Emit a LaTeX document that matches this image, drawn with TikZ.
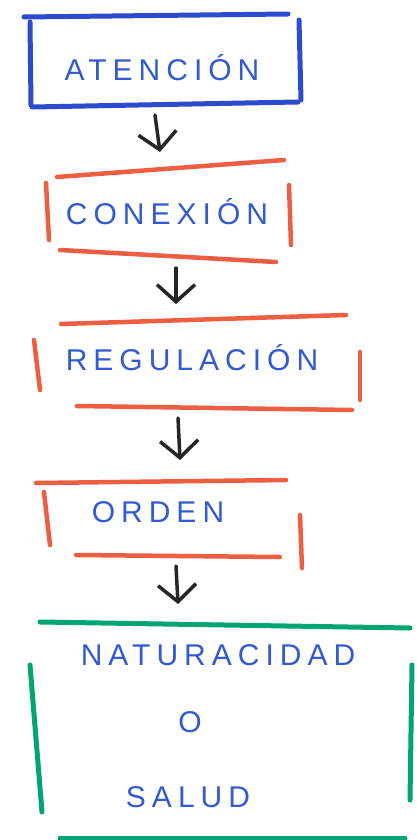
\documentclass[tikz,border=0pt]{standalone}
\usepackage{fontspec}
\setmainfont{Liberation Sans}
\usetikzlibrary{arrows.meta}
\definecolor{mblue}{RGB}{45,75,205}
\definecolor{mred}{RGB}{238,95,65}
\definecolor{mgreen}{RGB}{0,165,115}
\definecolor{tblue}{RGB}{50,90,210}
\tikzset{
  bluebox/.style={draw=mblue,line width=5pt,line cap=round},
  redbox/.style={draw=mred,line width=4.5pt,line cap=round},
  greenbox/.style={draw=mgreen,line width=5pt,line cap=round},
  lbl/.style={text=tblue,font=\fontsize{30}{34}\selectfont\addfontfeatures{LetterSpace=20}},
  flow/.style={draw=black!85,line width=3.5pt,line cap=round,-{Straight Barb[length=17pt,width=38pt,line width=3.5pt]}}
}
\begin{document}
\begin{tikzpicture}[x=1pt,y=-1pt]
\useasboundingbox (0,0) rectangle (416,840);
\fill[white] (0,0) rectangle (416,840);
% box 1 blue
\draw[bluebox] (24,17) -- (288,14);
\draw[bluebox] (30,22) -- (31,105);
\draw[bluebox] (299,20) -- (301,100);
\draw[bluebox] (32,107) -- (298,102);
\node[lbl] (t1) at (162,68) {ATENCIÓN};
% box 2 red
\draw[redbox] (57,177) -- (284,160);
\draw[redbox] (46,183) -- (49,240);
\draw[redbox] (289,185) -- (291,245);
\draw[redbox] (60,250) -- (276,262);
\node[lbl] (t2) at (167,212) {CONEXIÓN};
% box 3 red
\draw[redbox] (61,324) -- (346,315);
\draw[redbox] (34,340) -- (40,390);
\draw[redbox] (360,352) -- (360,400);
\draw[redbox] (77,406) -- (352,410);
\node[lbl] (t3) at (192,358) {REGULACIÓN};
% box 4 red
\draw[redbox] (36,483) -- (286,480);
\draw[redbox] (44,492) -- (50,545);
\draw[redbox] (300,515) -- (302,568);
\draw[redbox] (76,555) -- (280,557);
\node[lbl] (t4) at (158,512) {ORDEN};
% box 5 green
\draw[greenbox] (40,622) -- (410,628);
\draw[greenbox] (30,665) -- (42,812);
\draw[greenbox] (412,665) -- (410,800);
\draw[greenbox] (60,838) -- (405,838);
\node[lbl] (t5) at (218,655) {NATURACIDAD};
\node[lbl] (t6) at (190,722) {O};
\node[lbl] (t7) at (188,797) {SALUD};
% arrows
\coordinate (a1s) at (155,115); \coordinate (a1e) at (160,152);
\coordinate (a2s) at (176,268); \coordinate (a2e) at (176,304);
\coordinate (a3s) at (178,418); \coordinate (a3e) at (180,460);
\coordinate (a4s) at (176,566); \coordinate (a4e) at (178,604);
\draw[flow] (a1s) -- (a1e);
\draw[flow] (a2s) -- (a2e);
\draw[flow] (a3s) -- (a3e);
\draw[flow] (a4s) -- (a4e);
\end{tikzpicture}
\end{document}
